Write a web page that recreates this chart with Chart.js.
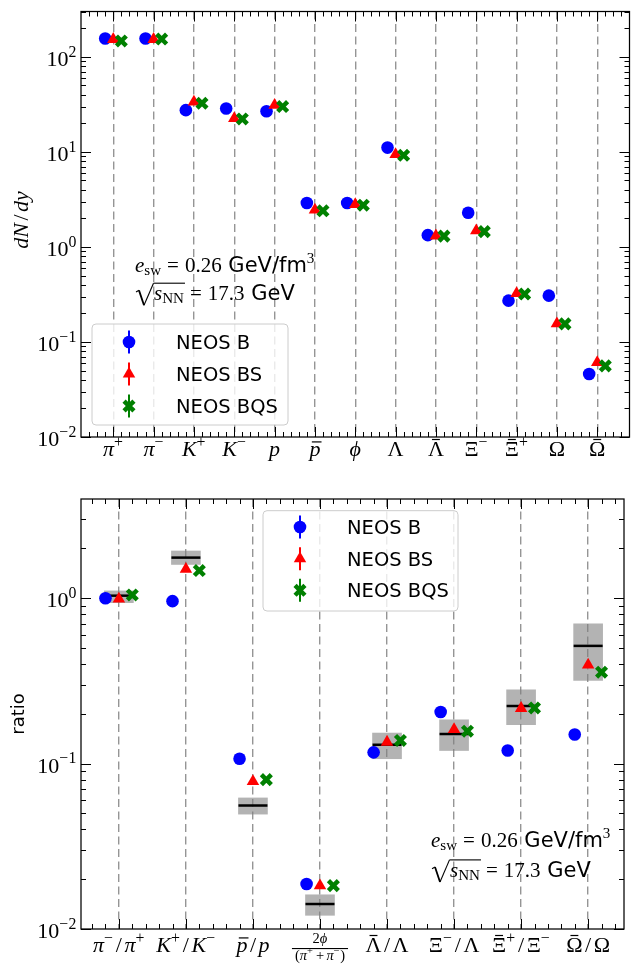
<!DOCTYPE html>
<html><head><meta charset="utf-8">
<script src="https://cdn.jsdelivr.net/npm/chart.js@4.4.1/dist/chart.umd.min.js"></script>
<style>
html,body{margin:0;padding:0;background:#fff;}
#wrap{position:relative;width:641px;height:967px;overflow:hidden;}
canvas{position:absolute;left:0;}
</style></head><body>
<div id="wrap">
<canvas id="c1" width="641" height="480" style="top:0px"></canvas>
<canvas id="c2" width="641" height="487" style="top:480px"></canvas>
</div>
<script>
// ---------------- data ----------------
const particles = ['π⁺','π⁻','K⁺','K⁻','p','p\u0304','ϕ','Λ','Λ\u0304','Ξ⁻','Ξ\u0304⁺','Ω','Ω\u0304'];
const yieldsB   = [156, 156, 27.5, 28.6, 26.8, 2.9, 2.9, 11.1, 1.33, 2.29, 0.272, 0.307, 0.046];
const yieldsBS  = [153, 153, 33.5, 22.5, 31.0, 2.45, 2.8, 9.4, 1.31, 1.48, 0.324, 0.156, 0.061];
const yieldsBQS = [147, 154, 32.5, 22.2, 30.0, 2.4, 2.75, 9.2, 1.30, 1.45, 0.319, 0.155, 0.056];
const yieldTicks = [0.01, 0.1, 1, 10, 100];
const yieldTickLabels = ['10⁻²','10⁻¹','10⁰','10¹','10²'];

const ratioNames = ['π⁻/π⁺','K⁺/K⁻','p\u0304/p','2ϕ/(π⁺+π⁻)','Λ\u0304/Λ','Ξ⁻/Λ','Ξ\u0304⁺/Ξ⁻','Ω\u0304/Ω'];
const ratioB      = [1.00, 0.96, 0.107, 0.0187, 0.117, 0.205, 0.120, 0.150];
const ratioBS     = [0.99, 1.50, 0.078, 0.0183, 0.135, 0.161, 0.216, 0.395];
const ratioBQS    = [1.047, 1.47, 0.080, 0.0183, 0.138, 0.157, 0.217, 0.357];
const ratioExp    = [1.036, 1.76, 0.0558, 0.01416, 0.130, 0.151, 0.223, 0.515];
const ratioExpLow = [0.94, 1.60, 0.0495, 0.0121, 0.107, 0.120, 0.172, 0.318];
const ratioExpHigh= [1.107, 1.93, 0.062, 0.0161, 0.153, 0.184, 0.279, 0.70];
const ratioTicks = [0.01, 0.1, 1];
const ratioTickLabels = ['10⁻²','10⁻¹','10⁰'];

const seriesNames = ['NEOS B','NEOS BS','NEOS BQS'];

// ---------------- styles ----------------
const SERIF = '"Liberation Serif", "DejaVu Serif", serif';
const SANS = '"DejaVu Sans", sans-serif';
const BLUE = '#0000ff', RED = '#ff0000', GREEN = '#008000';
const SUP = {'⁺':'+','⁻':'−','⁰':'0','¹':'1','²':'2','³':'3'};
const SUPK = 0.72;

function parseMath(str) {
  const segs = [];
  for (const ch of str) {
    if (ch === '\u0304') { if (segs.length) segs[segs.length-1].bar = true; continue; }
    if (SUP[ch] !== undefined) { segs.push({t: SUP[ch], sup: true, padR: 0.5}); continue; }
    const s = {t: ch, it: /[a-zA-Zπφϕ]/.test(ch)};
    if (ch === '/') { s.padL = 2.5; s.padR = 2.5; }
    if (ch === '+') { s.padL = 2.5; s.padR = 2.5; }
    segs.push(s);
  }
  return segs;
}
function segFont(s, size) {
  const sz = (s.sup || s.sub) ? size * SUPK : size;
  return (s.it ? 'italic ' : '') + sz.toFixed(1) + 'px ' + (s.sans ? SANS : SERIF);
}
function measureSegs(ctx, segs, size) {
  let w = 0;
  for (const s of segs) {
    if (s.rad) { s.x0 = w; s.w = s.radW; w += s.radW; continue; }
    ctx.font = segFont(s, size);
    s.w = ctx.measureText(s.t).width;
    s.x0 = w + (s.padL || 0);
    w += (s.padL || 0) + s.w + (s.padR || 0);
  }
  return w;
}
function drawSegs(ctx, segs, size, x, base) {
  let overStart = null, overEnd = null;
  for (const s of segs) {
    if (s.rad) {
      ctx.save(); ctx.lineJoin = 'miter';
      const top = base - 0.8 * size;
      ctx.lineWidth = 1.1;
      ctx.beginPath();
      ctx.moveTo(x + s.x0 + 1, base - 0.38 * size);
      ctx.lineTo(x + s.x0 + 4, base - 0.46 * size);
      ctx.stroke();
      ctx.lineWidth = 1.8;
      ctx.beginPath();
      ctx.moveTo(x + s.x0 + 4, base - 0.46 * size);
      ctx.lineTo(x + s.x0 + 9, base + 0.25 * size);
      ctx.stroke();
      ctx.lineWidth = 1.1;
      ctx.beginPath();
      ctx.moveTo(x + s.x0 + 9, base + 0.25 * size);
      ctx.lineTo(x + s.x0 + s.w - 0.5, top);
      ctx.stroke();
      ctx.restore();
      overStart = x + s.x0 + s.w - 0.5;
      continue;
    }
    ctx.font = segFont(s, size);
    const dy = s.sup ? -0.42 * size : (s.sub ? 0.16 * size : 0);
    ctx.fillText(s.t, x + s.x0, base + dy);
    if (s.over) overEnd = x + s.x0 + s.w + 1;
    if (s.bar) {
      const upper = /[A-ZΛΞΩ]/.test(s.t);
      const yb = base - (upper ? 0.75 : 0.64) * size;
      const cx = x + s.x0 + s.w / 2 + (s.it ? 0.08 * size : 0);
      const hw = upper ? 0.18 * size : 0.22 * size;
      ctx.fillRect(cx - hw, yb - 0.6, 2 * hw, 1.2);
    }
  }
  if (overStart !== null && overEnd !== null) {
    ctx.fillRect(overStart, base - 0.8 * size - 0.55, overEnd - overStart, 1.1);
  }
}

function drawMarker(ctx, kind, x, y, color) {
  ctx.save();
  ctx.fillStyle = color; ctx.strokeStyle = color;
  if (kind === 'circle') {
    ctx.beginPath(); ctx.arc(x, y, 6.3, 0, Math.PI * 2); ctx.fill();
  } else if (kind === 'triangle') {
    const r = 7.2;
    ctx.beginPath();
    ctx.moveTo(x, y - r);
    ctx.lineTo(x + r * Math.sin(2 * Math.PI / 3), y - r * Math.cos(2 * Math.PI / 3));
    ctx.lineTo(x + r * Math.sin(4 * Math.PI / 3), y - r * Math.cos(4 * Math.PI / 3));
    ctx.closePath(); ctx.fill();
  } else {
    const r = 7 * Math.SQRT1_2;
    ctx.lineWidth = 4.5;
    ctx.beginPath();
    ctx.moveTo(x - r, y - r); ctx.lineTo(x + r, y + r);
    ctx.moveTo(x + r, y - r); ctx.lineTo(x - r, y + r);
    ctx.stroke();
  }
  ctx.restore();
}

function annotSegs(which) {
  if (which === 1) {
    return [{t:'e', it:true}, {t:'sw', sub:true}, {t:'=', padL:6, padR:6}, {t:'0.26'},
            {t:' GeV/fm', sans:true}, {t:'3', sup:true}];
  }
  return [{rad:true, radW:19}, {t:'s', it:true, over:true}, {t:'NN', sub:true, over:true},
          {t:'=', padL:6, padR:6}, {t:'17.3'}, {t:' GeV', sans:true}];
}

function makeDecor(cfg) {
  return {
    id: 'decor',
    afterDraw(chart) {
      const ctx = chart.ctx, a = chart.chartArea, xs = chart.scales.x, ys = chart.scales.y;
      ctx.save();
      ctx.fillStyle = '#000'; ctx.strokeStyle = '#000';
      // ---- ticks (inward, all sides)
      ctx.lineWidth = 1;
      ctx.beginPath();
      for (let k = Math.ceil(xs.min / 0.2 - 1e-6); k * 0.2 <= xs.max + 1e-6; k++) {
        const v = k * 0.2;
        if (v <= xs.min + 1e-6 || v >= xs.max - 1e-6) continue;
        const iv = Math.round(v);
        const major = Math.abs(v - iv) < 1e-6 && iv >= 0 && iv < cfg.n;
        const len = major ? 10 : 5;
        const px = Math.round(xs.getPixelForValue(v)) + 0.5;
        ctx.moveTo(px, a.bottom); ctx.lineTo(px, a.bottom - len);
        ctx.moveTo(px, a.top); ctx.lineTo(px, a.top + len);
      }
      const d0 = Math.floor(Math.log10(ys.min)), d1 = Math.ceil(Math.log10(ys.max));
      for (let d = d0; d <= d1; d++) {
        for (let k = 1; k <= 9; k++) {
          const v = k * Math.pow(10, d);
          if (v < ys.min * 0.9999 || v > ys.max * 1.0001) continue;
          const len = k === 1 ? 10 : 5;
          const py = Math.round(ys.getPixelForValue(v)) + 0.5;
          ctx.moveTo(a.left, py); ctx.lineTo(a.left + len, py);
          ctx.moveTo(a.right, py); ctx.lineTo(a.right - len, py);
        }
      }
      ctx.stroke();
      // ---- frame
      ctx.lineWidth = 1.25;
      ctx.strokeRect(a.left, a.top, a.right - a.left, a.bottom - a.top);

      // ---- y tick labels
      ctx.textBaseline = 'alphabetic'; ctx.textAlign = 'left';
      cfg.yTicks.forEach((v, i) => {
        const segs = parseMath(cfg.yTickLabels[i]);
        const w = measureSegs(ctx, segs, 22);
        const py = ys.getPixelForValue(v);
        drawSegs(ctx, segs, 22, a.left - 4 - w, py + 9);
      });
      // ---- x tick labels
      cfg.labels.forEach((lab, i) => {
        const px = xs.getPixelForValue(i);
        if (lab.indexOf('(') >= 0) {
          const j = lab.indexOf('/');
          const num = parseMath(lab.slice(0, j)), den = parseMath(lab.slice(j + 1));
          const fs = 14.5;
          const wn = measureSegs(ctx, num, fs), wd = measureSegs(ctx, den, fs);
          drawSegs(ctx, num, fs, px - wn / 2, a.bottom + 13.5);
          const bw = Math.max(wn, wd) + 6;
          ctx.fillRect(px - bw / 2, a.bottom + 19, bw, 1.1);
          drawSegs(ctx, den, fs, px - wd / 2, a.bottom + 31);
        } else {
          const segs = parseMath(lab);
          const w = measureSegs(ctx, segs, cfg.xSize);
          drawSegs(ctx, segs, cfg.xSize, px - w / 2, a.bottom + cfg.xBase);
        }
      });
      // ---- y title
      ctx.save();
      ctx.translate(cfg.ytitle.x, cfg.ytitle.y);
      ctx.rotate(-Math.PI / 2);
      if (cfg.ytitle.sans) {
        ctx.font = '18px ' + SANS;
        ctx.textAlign = 'center'; ctx.textBaseline = 'middle';
        ctx.fillText(cfg.ytitle.text, 0, 0);
      } else {
        const segs = parseMath(cfg.ytitle.text);
        const w = measureSegs(ctx, segs, 22);
        drawSegs(ctx, segs, 22, -w / 2, 7);
      }
      ctx.restore();
      // ---- annotation
      ctx.textAlign = 'left'; ctx.textBaseline = 'alphabetic';
      const s1 = annotSegs(1); measureSegs(ctx, s1, 21);
      drawSegs(ctx, s1, 21, cfg.annot.x, cfg.annot.y1);
      const s2 = annotSegs(2); measureSegs(ctx, s2, 21);
      drawSegs(ctx, s2, 21, cfg.annot.x, cfg.annot.y2);
      // ---- legend
      const L = cfg.legend;
      ctx.save();
      const r = 4;
      ctx.beginPath();
      ctx.moveTo(L.x + r, L.y); ctx.lineTo(L.x + L.w - r, L.y);
      ctx.arcTo(L.x + L.w, L.y, L.x + L.w, L.y + r, r);
      ctx.lineTo(L.x + L.w, L.y + L.h - r);
      ctx.arcTo(L.x + L.w, L.y + L.h, L.x + L.w - r, L.y + L.h, r);
      ctx.lineTo(L.x + r, L.y + L.h);
      ctx.arcTo(L.x, L.y + L.h, L.x, L.y + L.h - r, r);
      ctx.lineTo(L.x, L.y + r);
      ctx.arcTo(L.x, L.y, L.x + r, L.y, r);
      ctx.closePath();
      ctx.fillStyle = 'rgba(255,255,255,0.8)'; ctx.fill();
      ctx.strokeStyle = '#cccccc'; ctx.lineWidth = 1; ctx.stroke();
      ctx.restore();
      const kinds = ['circle', 'triangle', 'cross'], cols = [BLUE, RED, GREEN];
      seriesNames.forEach((name, i) => {
        const y = L.y + L.rows[i];
        const mx = L.x + 37;
        ctx.save();
        ctx.strokeStyle = cols[i]; ctx.lineWidth = 2;
        ctx.beginPath(); ctx.moveTo(mx, y - 11.5); ctx.lineTo(mx, y + 11.5); ctx.stroke();
        ctx.restore();
        drawMarker(ctx, kinds[i], mx, y, cols[i]);
        ctx.fillStyle = '#000';
        ctx.font = '19.5px ' + SANS;
        ctx.textAlign = 'left'; ctx.textBaseline = 'alphabetic';
        ctx.fillText(name, L.x + 84, y + 7);
      });
      ctx.restore();
    }
  };
}

function pts(vals, o) { return vals.map((v, i) => ({x: i + o, y: v})); }

function seriesDatasets(b, bs, bqs) {
  return [
    {label: seriesNames[0], data: pts(b, -0.2), pointStyle: 'circle', pointRadius: 6.3, pointHoverRadius: 6.3,
     pointBackgroundColor: BLUE, pointBorderColor: BLUE, pointBorderWidth: 0, order: 3},
    {label: seriesNames[1], data: pts(bs, 0), pointStyle: 'triangle', pointRadius: 7.2, pointHoverRadius: 7.2,
     pointBackgroundColor: RED, pointBorderColor: RED, pointBorderWidth: 0, order: 2},
    {label: seriesNames[2], data: pts(bqs, 0.2), pointStyle: 'crossRot', pointRadius: 7, pointHoverRadius: 7,
     pointBackgroundColor: GREEN, pointBorderColor: GREEN, pointBorderWidth: 4.5, order: 1}
  ];
}

function baseOptions(xmin, xmax, ymin, ymax, pad, n) {
  return {
    responsive: false, animation: false, devicePixelRatio: 1, events: [],
    layout: {padding: pad},
    plugins: {legend: {display: false}, tooltip: {enabled: false}},
    scales: {
      x: {type: 'linear', min: xmin, max: xmax, offset: false,
          afterBuildTicks: s => { s.ticks = Array.from({length: n}, (_, i) => ({value: i})); },
          ticks: {display: false},
          grid: {display: true, drawTicks: false, offset: false, color: '#959595', lineWidth: 1.4},
          border: {display: false, dash: [8, 4.5]}},
      y: {type: 'logarithmic', min: ymin, max: ymax,
          ticks: {display: false}, grid: {display: false, drawTicks: false}, border: {display: false}}
    }
  };
}

// ---------------- top chart ----------------
new Chart(document.getElementById('c1'), {
  type: 'scatter',
  data: {datasets: seriesDatasets(yieldsB, yieldsBS, yieldsBQS)},
  options: baseOptions(-0.8, 12.8, 0.01, 300, {left: 81, top: 6, right: 1, bottom: 43}, particles.length),
  plugins: [makeDecor({
    n: particles.length, labels: particles, xSize: 22, xBase: 19,
    yTicks: yieldTicks, yTickLabels: yieldTickLabels,
    ytitle: {text: 'dN/dy', x: 21, y: 220},
    annot: {x: 135, y1: 271.7, y2: 300},
    legend: {x: 92, y: 324, w: 196, h: 101, rows: [18, 50, 82]}
  })]
});

// ---------------- bottom chart ----------------
const bottomDatasets = [
  {type: 'bar', label: 'exp', data: ratioExpLow.map((lo, i) => ({x: i, y: [lo, ratioExpHigh[i]]})),
   backgroundColor: 'rgba(128,128,128,0.6)', borderWidth: 0, barThickness: 29, grouped: false, order: 10},
  {label: 'exp value', data: pts(ratioExp, 0), pointStyle: 'line', pointRadius: 14.5, pointHoverRadius: 14.5,
   pointBorderColor: '#000', pointBackgroundColor: '#000', pointBorderWidth: 2.5, order: 5}
].concat(seriesDatasets(ratioB, ratioBS, ratioBQS));

new Chart(document.getElementById('c2'), {
  type: 'scatter',
  data: {datasets: bottomDatasets},
  options: baseOptions(-0.565, 7.535, 0.01, 3.98, {left: 81, top: 19, right: 1, bottom: 38}, ratioNames.length),
  plugins: [makeDecor({
    n: ratioNames.length, labels: ratioNames, xSize: 22, xBase: 23,
    yTicks: ratioTicks, yTickLabels: ratioTickLabels,
    ytitle: {text: 'ratio', sans: true, x: 19, y: 234},
    annot: {x: 431, y1: 366.7, y2: 396.7},
    legend: {x: 263, y: 30.7, w: 195, h: 100.3, rows: [16.3, 48, 79.6]}
  })]
});
</script>
</body></html>
